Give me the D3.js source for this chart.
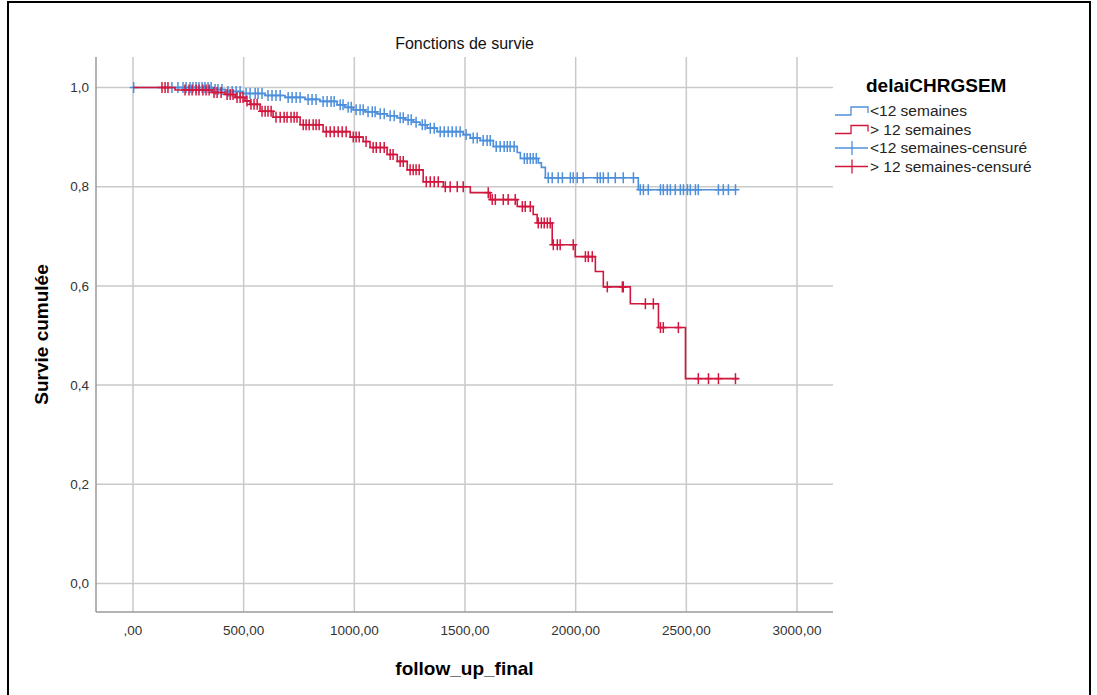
<html>
<head>
<meta charset="utf-8">
<title>Fonctions de survie</title>
<script src="https://d3js.org/d3.v7.min.js"></script>
<style>
  body { margin: 0; background: white; }
  text { font-family: "Liberation Sans", Arial, sans-serif; }
</style>
</head>
<body>
<svg id="plot"></svg>
<script>

// step points of the two Kaplan-Meier curves (time, cumulative survival)
var lowTimes = [0, 357, 416, 493, 597, 687, 778, 845, 922, 958, 995, 1049, 1103, 1148, 1194, 1230, 1266, 1297, 1329, 1374, 1492, 1524, 1569, 1628, 1736, 1750, 1831, 1845, 1863, 2283]
var lowSurv = [1, 0.996, 0.992, 0.988, 0.984, 0.98, 0.976, 0.972, 0.965, 0.96, 0.955, 0.951, 0.947, 0.943, 0.939, 0.935, 0.93, 0.925, 0.918, 0.911, 0.905, 0.898, 0.893, 0.881, 0.869, 0.857, 0.848, 0.839, 0.818, 0.794]
var lowEnd = 2730
var lowCensor = [3, 176, 203, 226, 240, 258, 271, 285, 298, 312, 325, 339, 353, 371, 384, 402, 429, 448, 466, 484,
  511, 529, 552, 565, 583, 610, 628, 646, 665, 701, 719, 737, 755, 791, 809, 827, 859, 877, 895, 909, 936, 949,
  972, 986, 1008, 1026, 1040, 1062, 1081, 1094, 1117, 1135, 1162, 1180, 1207, 1221, 1243, 1257, 1279, 1307, 1320,
  1343, 1361, 1388, 1406, 1424, 1442, 1460, 1478, 1505, 1537, 1555, 1582, 1600, 1614, 1641, 1659, 1677, 1691, 1704,
  1722, 1768, 1781, 1795, 1808, 1822, 1876, 1894, 1921, 1940, 1976, 1989, 2007, 2034, 2098, 2111, 2125, 2147, 2179,
  2215, 2261, 2292, 2306, 2328, 2383, 2396, 2414, 2428, 2450, 2473, 2487, 2505, 2518, 2541, 2554, 2645, 2667, 2690, 2722]

var highTimes = [0, 190, 357, 416, 461, 506, 529, 574, 633, 755, 859, 981, 1040, 1071, 1148, 1194, 1239, 1311, 1402, 1524, 1614, 1736, 1808, 1826, 1894, 1998, 2089, 2125, 2247, 2374, 2496]
var highSurv = [1, 0.995, 0.99, 0.986, 0.98, 0.973, 0.966, 0.952, 0.94, 0.925, 0.911, 0.9, 0.891, 0.879, 0.865, 0.851, 0.834, 0.81, 0.8, 0.788, 0.774, 0.76, 0.744, 0.727, 0.683, 0.659, 0.629, 0.598, 0.564, 0.516, 0.413]
var highEnd = 2735
var highCensor = [131, 145, 158, 235, 253, 267, 285, 298, 316, 330, 344, 366, 380, 398, 425, 439, 452, 470, 484, 497,
  515, 533, 547, 561, 583, 597, 610, 624, 646, 665, 683, 696, 714, 728, 741, 769, 782, 796, 814, 827, 841, 873, 891,
  909, 927, 945, 963, 995, 1008, 1022, 1053, 1085, 1099, 1117, 1135, 1162, 1175, 1207, 1221, 1252, 1266, 1279, 1293,
  1325, 1343, 1361, 1379, 1411, 1433, 1465, 1492, 1605, 1623, 1637, 1673, 1695, 1727, 1759, 1772, 1795, 1831, 1845,
  1858, 1872, 1885, 1899, 1917, 1930, 1989, 2044, 2057, 2075, 2143, 2211, 2215, 2315, 2351, 2383, 2396, 2464,
  2554, 2600, 2645, 2722]

var xTicks = [0, 500, 1000, 1500, 2000, 2500, 3000]
var yTicks = [0, 0.2, 0.4, 0.6, 0.8, 1.0]
var legendLabels = ["<12 semaines", "> 12 semaines", "<12 semaines-censuré", "> 12 semaines-censuré"]

var blue = "#4d8fdb"
var red = "#d2173f"

var width = 1097
var height = 695

var plot = {"left": 96, "right": 833, "top": 57, "bottom": 612}

var svg = d3.select("#plot")
  .attr("width", width)
  .attr("height", height)

// outer frame
svg.append("rect")
  .attr("x", 8)
  .attr("y", 2)
  .attr("width", 1082)
  .attr("height", 700)
  .attr("fill", "white")
  .attr("stroke", "black")
  .attr("stroke-width", 2)

var xScale = d3.scaleLinear().domain([0, 3000]).range([133, 797])
var yScale = d3.scaleLinear().domain([0, 1]).range([583.5, 87.5])

// grid lines
svg.append("g").selectAll("line")
  .data(xTicks).enter().append("line")
  .attr("x1", function (d) { return xScale(d) })
  .attr("x2", function (d) { return xScale(d) })
  .attr("y1", plot.top)
  .attr("y2", plot.bottom)
  .attr("stroke", "#c9c9c9")
  .attr("stroke-width", 1.5)

svg.append("g").selectAll("line")
  .data(yTicks).enter().append("line")
  .attr("x1", plot.left)
  .attr("x2", plot.right)
  .attr("y1", function (d) { return yScale(d) })
  .attr("y2", function (d) { return yScale(d) })
  .attr("stroke", "#c9c9c9")
  .attr("stroke-width", 1.5)

// axis lines
svg.append("line")
  .attr("x1", plot.left).attr("x2", plot.right)
  .attr("y1", plot.bottom).attr("y2", plot.bottom)
  .attr("stroke", "#9a9a9a").attr("stroke-width", 1.5)
svg.append("line")
  .attr("x1", plot.left).attr("x2", plot.left)
  .attr("y1", plot.top).attr("y2", plot.bottom)
  .attr("stroke", "#9a9a9a").attr("stroke-width", 1.5)

// tick labels with comma decimals
svg.append("g").selectAll("text")
  .data(xTicks).enter().append("text")
  .attr("x", function (d) { return xScale(d) })
  .attr("y", 635)
  .attr("text-anchor", "middle")
  .attr("font-size", 13.5)
  .attr("fill", "#333")
  .text(function (d) { return d == 0 ? ",00" : d + ",00" })

svg.append("g").selectAll("text")
  .data(yTicks).enter().append("text")
  .attr("x", 89)
  .attr("y", function (d) { return yScale(d) })
  .attr("dy", "0.35em")
  .attr("text-anchor", "end")
  .attr("font-size", 13.5)
  .attr("fill", "#333")
  .text(function (d) { return d.toFixed(1).replace(".", ",") })

// titles
svg.append("text")
  .attr("x", (plot.left + plot.right) / 2)
  .attr("y", 49)
  .attr("text-anchor", "middle")
  .attr("font-size", 16)
  .attr("fill", "#111")
  .text("Fonctions de survie")

svg.append("text")
  .attr("x", (plot.left + plot.right) / 2)
  .attr("y", 675)
  .attr("text-anchor", "middle")
  .attr("font-size", 19)
  .attr("font-weight", "bold")
  .text("follow_up_final")

svg.append("text")
  .attr("transform", "translate(48," + ((plot.top + plot.bottom) / 2) + ")rotate(-90)")
  .attr("text-anchor", "middle")
  .attr("font-size", 19)
  .attr("font-weight", "bold")
  .text("Survie cumulée")

// survival value at a time, read from the step points
function survAt(times, surv, t) {
  var i = d3.bisectRight(times, t) - 1
  return surv[Math.max(i, 0)]
}

var stepLine = d3.line()
  .x(function (d) { return xScale(d[0]) })
  .y(function (d) { return yScale(d[1]) })
  .curve(d3.curveStepAfter)

function drawCurve(times, surv, end, censor, color) {
  var pts = times.map(function (t, i) { return [t, surv[i]] })
  pts.push([end, surv[surv.length - 1]])

  svg.append("path")
    .attr("d", stepLine(pts))
    .attr("fill", "none")
    .attr("stroke", color)
    .attr("stroke-width", 1.6)

  var marks = svg.append("g").selectAll("g")
    .data(censor).enter().append("g")
    .attr("transform", function (d) {
      return "translate(" + xScale(d) + "," + yScale(survAt(times, surv, d)) + ")"
    })
  marks.append("line")
    .attr("x1", 0).attr("x2", 0).attr("y1", -5.5).attr("y2", 5.5)
    .attr("stroke", color).attr("stroke-width", 1.5)
  marks.append("line")
    .attr("x1", -4).attr("x2", 4).attr("y1", 0).attr("y2", 0)
    .attr("stroke", color).attr("stroke-width", 1.5)
}

drawCurve(lowTimes, lowSurv, lowEnd, lowCensor, blue)
drawCurve(highTimes, highSurv, highEnd, highCensor, red)

// legend
svg.append("text")
  .attr("x", 866)
  .attr("y", 92)
  .attr("font-size", 19)
  .attr("font-weight", "bold")
  .text("delaiCHRGSEM")

var legendColors = [blue, red, blue, red]
var legend = svg.append("g").selectAll("g")
  .data(legendLabels).enter().append("g")
  .attr("transform", function (d, i) { return "translate(0," + (111 + i * 18.5) + ")" })

legend.append("text")
  .attr("x", 870)
  .attr("dy", "0.35em")
  .attr("font-size", 15.5)
  .attr("fill", "#222")
  .text(function (d) { return d })

legend.filter(function (d, i) { return i < 2 }).append("path")
  .attr("d", "M835,4H851V-4H868V2")
  .attr("fill", "none")
  .attr("stroke", function (d, i) { return legendColors[i] })
  .attr("stroke-width", 1.3)

legend.filter(function (d, i) { return i >= 2 }).each(function (d, i) {
  var g = d3.select(this)
  g.append("line").attr("x1", 835).attr("x2", 868).attr("y1", 0).attr("y2", 0)
    .attr("stroke", legendColors[i + 2]).attr("stroke-width", 1.3)
  g.append("line").attr("x1", 852).attr("x2", 852).attr("y1", -7).attr("y2", 7)
    .attr("stroke", legendColors[i + 2]).attr("stroke-width", 1.3)
})

</script>
</body>
</html>
